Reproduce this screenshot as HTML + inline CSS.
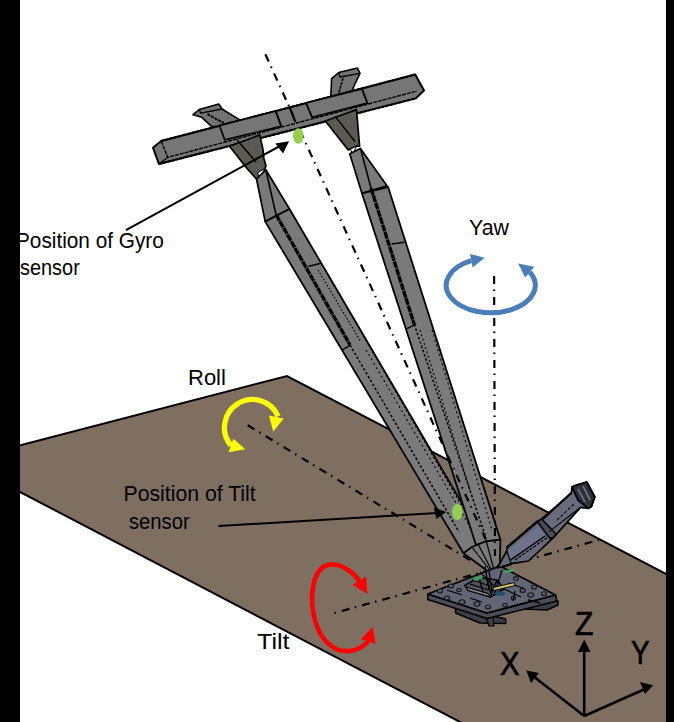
<!DOCTYPE html>
<html><head><meta charset="utf-8">
<style>
html,body{margin:0;padding:0;background:#fff;width:674px;height:722px;overflow:hidden}
svg{display:block}
text{font-family:"Liberation Sans",sans-serif;fill:#000}
</style></head><body>
<svg width="674" height="722" viewBox="0 0 674 722">
<defs><clipPath id="belowbar"><rect x="0" y="128" width="674" height="600"/></clipPath></defs>
<rect x="0" y="0" width="674" height="722" fill="#fff"/>
<!-- ground plane -->
<polygon points="0,450.6 287,376 680,581.3 680,740 494.5,740 0,481.5" fill="#7f6f60" stroke="#000" stroke-width="2" stroke-linejoin="miter"/>

<!-- background axes (behind structure) -->
<g stroke="#000" stroke-width="2.2" fill="none" stroke-dasharray="8 5.5 1.5 6">
  <line x1="265.4" y1="54.2" x2="292" y2="113"/>
  <line x1="247.7" y1="425.2" x2="470" y2="560"/>
  <line x1="334.5" y1="613" x2="605" y2="538.3" stroke-dashoffset="13.5"/>
</g>

<!-- ===== STRUCTURE ===== -->
<g id="structure" stroke="#000" stroke-linejoin="round">
  <!-- rear small brackets behind crossbar -->
  <polygon points="193,114.7 199.2,109.5 218.9,104.1 222.1,109 239.7,119.9 219.5,127.2 211.2,126.2 201.8,117.3" fill="#737373" stroke-width="1.6"/>
  <polyline points="199.2,109.5 200.8,113.2 222.1,109" fill="none" stroke-width="1.3"/>
  <line x1="207.5" y1="114.2" x2="223.6" y2="123" stroke-width="2" stroke-dasharray="3 1"/>
  <polygon points="331.6,78.7 338.7,72.5 357.4,68 360,73.4 354,86 350,96 330.7,98" fill="#737373" stroke-width="1.6"/>
  <polyline points="338.7,72.5 340,77 360,73.4" fill="none" stroke-width="1.3"/>
  <line x1="343" y1="78" x2="338" y2="96" stroke-width="1.6" stroke-dasharray="3 1"/>

  <!-- crossbar -->
  <polygon points="153,147.7 161.1,141 415.2,74.5 424,90.6 415.7,98.4 158.9,164" fill="#767676" stroke-width="2"/>
  <polyline points="161.1,141 167.8,157.3 417,91" fill="none" stroke-width="1.4" stroke-dasharray="4 1"/>
  <line x1="167.8" y1="157.3" x2="158.9" y2="164" stroke-width="1.3"/>
  <line x1="161.1" y1="141" x2="415.2" y2="74.5" stroke-width="2" stroke-dasharray="3 1.5"/>
  <line x1="158.9" y1="164" x2="415.7" y2="98.4" stroke-width="2" stroke-dasharray="3 1.5"/>
  <!-- collars -->
  <polygon points="219.5,125.7 275.9,111 281.2,126.5 224.7,139.8" fill="#767676" stroke-width="1.8"/>
  <polygon points="306,103 362,88.9 367.4,103.1 312.2,117.4" fill="#767676" stroke-width="1.8"/>
  <line x1="275.7" y1="112" x2="281.9" y2="127.2" stroke-width="1.4"/>
  <line x1="289.9" y1="107.6" x2="295.3" y2="121.8" stroke-width="2.2"/>

  <!-- left leg bracket -->
  <polygon points="229.5,146.3 259.7,134.9 262.8,148.4 263.8,158.2 266,166 264.8,168.6 259.7,179 256.5,179 247.2,168.6" fill="#5d5953" stroke-width="1.7"/>
  <line x1="236.8" y1="139.5" x2="256" y2="162" stroke-width="1.5"/>
  <polygon points="257.6,172.8 264.8,168.6 259.7,179" fill="#fff" stroke-width="1"/>
  <!-- right leg bracket -->
  <polygon points="325.3,121 356.5,109.6 358.8,137 359.6,146.1 356.5,146.1 348.2,149.9" fill="#5d5953" stroke-width="1.7"/>
  <line x1="335.2" y1="116.4" x2="355" y2="141.5" stroke-width="1.4"/>
  <polygon points="350.5,149.2 356.5,146.1 352.7,154.5" fill="#fff" stroke-width="1"/>

  <!-- left leg -->
  <polygon points="256.5,179 265.8,169.8 289.5,209 265.2,221.6" fill="#7a7a7a" stroke-width="1.7"/>
  <line x1="265.8" y1="169.8" x2="276" y2="214.5" stroke-width="1.6"/>
  <polygon points="265.2,221.6 289.5,209 486.4,545 463.5,553.2" fill="#7a7a7a" stroke-width="1.8"/>
  <line x1="276" y1="214.5" x2="350" y2="345" stroke-width="3.3" stroke-dasharray="7 0.7"/>
  <line x1="350" y1="345" x2="459" y2="532" stroke-width="1.5" stroke-dasharray="2.5 2"/>
  <line x1="323" y1="266" x2="470" y2="520" stroke-width="1.2" stroke-dasharray="2 2.5"/>
  <line x1="308.3" y1="266.6" x2="320.8" y2="263.3" stroke-width="1.5"/>
  <line x1="318" y1="270" x2="361" y2="342" stroke-width="1.2" stroke-dasharray="1.5 2"/>
  <line x1="342.4" y1="349.8" x2="350.7" y2="344.8" stroke-width="1.5"/>

  <line x1="366" y1="350" x2="471.9" y2="530" stroke-width="1.1" stroke-dasharray="2 3"/>
  <!-- right leg -->
  <polygon points="349.7,153.7 360.4,148.4 387,185.7 361.9,193.3" fill="#7a7a7a" stroke-width="1.7"/>
  <line x1="360.4" y1="148.4" x2="371" y2="188" stroke-width="1.6"/>
  <polygon points="361.9,193.3 388.1,187 500.4,539.7 486.3,541.3 476,545" fill="#7a7a7a" stroke-width="1.8"/>
  <line x1="371" y1="188" x2="414.2" y2="324.2" stroke-width="3.3" stroke-dasharray="7 0.7"/>
  <line x1="414.2" y1="324.2" x2="486" y2="538" stroke-width="1.5" stroke-dasharray="2.5 2"/>
  <line x1="391.7" y1="244.1" x2="404.3" y2="242.3" stroke-width="1.5"/>
  <line x1="407" y1="328.7" x2="416" y2="324.2" stroke-width="1.5"/>

  <line x1="420" y1="330" x2="470" y2="490" stroke-width="1.1" stroke-dasharray="2 2.5"/>
  <line x1="432" y1="330" x2="492" y2="530" stroke-width="1.1" stroke-dasharray="2 3"/>
  <!-- cone -->
  <path d="M463.5,553.2 L471.8,547 L486.3,541.3 L500.4,539.7 L499.8,563.6 L491.5,574 Z" fill="#7a7a7a" stroke-width="1.7"/>
  <path d="M471.8,547 L491.5,572 M486.3,541.3 L494,570 M478,544 L492,571" fill="none" stroke-width="1.2"/>

  <!-- base plate -->
  <polygon points="455.6,607 505.7,619 505.7,623.5 480,623 455.6,613" fill="#3c3e46" stroke-width="1.5"/>
  <polygon points="486,617 493,616 494,626 489,626" fill="#3c3e46" stroke-width="1.2"/>
  <polygon points="522,604 547,599 558,601 558,605 547,610 524,609" fill="#3c3e46" stroke-width="1.5"/>
  <polygon points="427.8,594 427.8,599.5 487,618.5 557,601 555.5,595 487,613" fill="#4a4d58" stroke-width="1.6"/>
  <polygon points="427.8,594 500,566 555.5,595 487,613" fill="#626574" stroke-width="1.8"/>
  <g fill="#5a5d6a" stroke="#18181c" stroke-width="1.1">
    <ellipse cx="440" cy="591" rx="2.6" ry="2"/><ellipse cx="451" cy="586" rx="2.6" ry="2"/>
    <ellipse cx="447" cy="598" rx="2.6" ry="2"/><ellipse cx="462" cy="602" rx="3" ry="2.2"/>
    <ellipse cx="477" cy="604" rx="3" ry="2.2"/><ellipse cx="488" cy="607" rx="2.6" ry="2"/>
    <ellipse cx="530.7" cy="595" rx="3" ry="2.2"/><ellipse cx="544" cy="593.7" rx="2.6" ry="2"/>
    <ellipse cx="522.7" cy="590.4" rx="2.6" ry="2"/><ellipse cx="534" cy="587" rx="2.6" ry="2"/>
    <ellipse cx="516" cy="578.4" rx="2.4" ry="1.8"/><ellipse cx="505" cy="605" rx="2.2" ry="1.7"/>
    <ellipse cx="459" cy="590" rx="2.2" ry="1.7"/><ellipse cx="513.4" cy="598" rx="2.2" ry="1.7"/>
  </g>
  <!-- centre components -->
  <polygon points="464.5,585.3 479,577.5 497,580 504,589 490.4,597 468,590" fill="#50535e" stroke-width="1.5"/>
  <polygon points="466,587 488,593.5 490.4,597 468,590.5" fill="#85868c" stroke-width="1.2"/>
  <g stroke-width="1.3" fill="none">
    <path d="M470,584 L489,590 M479,577.5 L483,592 M487,579 L491,594 M497,580 L490.4,597 M472,580 L490,586"/>
    <path d="M504,589 L521,597 M508,583 L523,588 M515,591 L513,601 M480,572 L496,588 M502,570 L494,596 M489,571 L492,592 M485,566 L489,590"/>
    <path d="M470,598 L482,602 M447,590 L462,595 M528,600 L540,603"/>
  </g>
  <polygon points="493,587.5 514.3,582.6 514.8,585.6 493.5,590.6" fill="#c9c070" stroke-width="0.9"/>
  <ellipse cx="500" cy="593.5" rx="5" ry="2.3" fill="#1f4f66" stroke="none"/>
  <path d="M473,578.5 L481.5,575.6 L482.5,578.5 L475,581 Z" fill="#3aa655" stroke="none"/>
  <path d="M503,571.5 L513.8,568.3 L514.3,571 L505,573.5 Z" fill="#3aa655" stroke="none"/>

  <!-- actuator -->
  <polygon points="497.3,568 506.7,551 507.1,547.4 537.4,521.6 541.7,519 571.3,493 572,487 586.7,482 594.7,497 591.4,506.4 588,508.4 580.7,507.3 553.4,537.6 528.5,561 512.5,563.4" fill="#676b7b" stroke-width="1.7"/>
  <polygon points="507.6,551 538.3,526.5 545.4,535.8 510.7,559.9" fill="#70748a" stroke="none"/>
  <polyline points="506.7,551 511.4,564.1" fill="none" stroke-width="1.3"/>
  <polyline points="507.1,547.4 537.4,521.6" fill="none" stroke-width="2.6"/>
  <polyline points="510.7,559.9 545.4,535.8" fill="none" stroke-width="1.3"/>
  <polyline points="515,560 548,537" fill="none" stroke-width="1.2" stroke-dasharray="3 1.5"/>
  <polygon points="537.4,521.6 541.7,519 556,534 553.4,537.6 549.9,538.5" fill="#4a4d59" stroke-width="1.6"/>
  <polyline points="549.5,531.4 580.7,507.3" fill="none" stroke-width="1.2"/>
  <polyline points="557,520 575,503" fill="none" stroke-width="1.1" stroke-dasharray="3 2"/>
  <polyline points="543,519 571.3,493" fill="none" stroke-width="1.8"/>
  <polygon points="572,487 575.4,485.3 586.7,482 594.7,497 591.4,506.4 588,508.4 578,500" fill="#30323a" stroke-width="1.8"/>
  <path d="M578,489 L585,502 M583,486 L590,500" fill="none" stroke="#7d8195" stroke-width="1.4"/>
</g>

<!-- top axis continuing over legs -->
<line x1="265.4" y1="54.2" x2="486" y2="540" stroke="#000" stroke-width="2.2" stroke-dasharray="8 5.5 1.5 6" clip-path="url(#belowbar)"/>
<!-- vertical yaw axis -->
<line x1="494.1" y1="276" x2="495" y2="556" stroke="#000" stroke-width="2.2" stroke-dasharray="8 5.5 1.5 6"/>

<!-- green sensor dots -->
<ellipse cx="298.3" cy="136" rx="5.3" ry="7.8" fill="#92d050"/>
<ellipse cx="457.3" cy="512" rx="5.2" ry="8" fill="#92d050"/>

<!-- pointer arrows -->
<g stroke="#000" stroke-width="2" fill="#000">
  <line x1="125.9" y1="230.2" x2="280" y2="146"/>
  <polygon points="289.1,141.2 275.3,143.5 283,153.5" stroke="none"/>
  <line x1="218.4" y1="526" x2="437" y2="513" />
  <polygon points="446.2,512 433.8,507.4 436.3,519" stroke="none"/>
</g>

<!-- yaw arrow -->
<g fill="#4a7ebb">
  <path d="M471.3,260.7 A44.5,27.4 0 1 0 529.75,272.15" fill="none" stroke="#4a7ebb" stroke-width="5"/>
  <polygon points="484.7,257.7 470,253.9 472.6,267.5"/>
  <polygon points="518.2,263.6 525.2,277.6 534.3,266.7"/>
</g>
<!-- roll arrow -->
<g fill="#ffff00">
  <path d="M231,445.5 A28,28 0 1 1 278.1,416.3" fill="none" stroke="#ffff00" stroke-width="5.3"/>
  <polygon points="245.3,449.3 228.6,452.3 233.4,438.7"/>
  <polygon points="269,415.5 283.8,418.5 273.2,431.5"/>
</g>
<!-- tilt arrow -->
<g fill="#ff0000">
  <path d="M359.4,580.8 C350,568 331,557 319,571 C307,590 311,630 330,645 C342,655 358,652 368.3,641.5" fill="none" stroke="#ff0000" stroke-width="4.6"/>
  <polygon points="367.2,594 352.6,584.8 366.2,576.8"/>
  <polygon points="372.7,627 361,639.3 375.6,643.7"/>
</g>

<!-- xyz axes -->
<g stroke="#000" stroke-width="2.6" fill="#000">
  <line x1="584.2" y1="716" x2="584.2" y2="648"/>
  <polygon points="584.2,639.6 577.9,652 590.5,652" stroke="none"/>
  <line x1="584.2" y1="716" x2="533" y2="676"/>
  <polygon points="526.3,670.4 531,683 539,673" stroke="none"/>
  <line x1="584.2" y1="716" x2="645" y2="689"/>
  <polygon points="653.3,685.2 640,682 645,694" stroke="none"/>
</g>

<!-- labels -->
<text transform="translate(16,247.5) scale(0.967,1)" font-size="21.5">Position of Gyro</text>
<text transform="translate(20,275.4) scale(0.927,1)" font-size="21.5">sensor</text>
<text transform="translate(469,234.5) scale(0.93,1)" font-size="23">Yaw</text>
<text x="188" y="384.6" font-size="22">Roll</text>
<text transform="translate(123.5,500.8) scale(0.988,1)" font-size="21.5">Position of Tilt</text>
<text transform="translate(129,528.7) scale(0.941,1)" font-size="21.5">sensor</text>
<text transform="translate(257,648.8) scale(1.17,1)" font-size="21.5">Tilt</text>
<text transform="translate(500,675) scale(0.885,1)" font-size="33" stroke="#000" stroke-width="0.7">X</text>
<text transform="translate(575,635) scale(0.91,1)" font-size="33" stroke="#000" stroke-width="0.7">Z</text>
<text transform="translate(631,664.2) scale(0.845,1)" font-size="33" stroke="#000" stroke-width="0.7">Y</text>

<!-- black side bars -->
<rect x="0" y="0" width="20" height="722" fill="#000"/>
<rect x="666" y="0" width="8" height="722" fill="#000"/>
</svg>
</body></html>
